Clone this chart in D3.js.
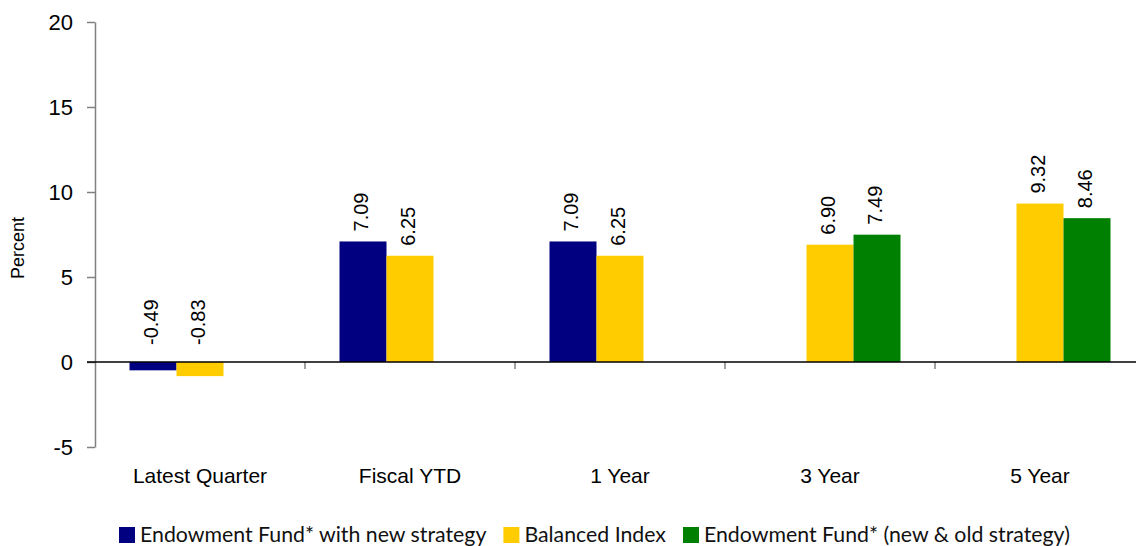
<!DOCTYPE html>
<html>
<head>
<meta charset="utf-8">
<script src="https://cdn.jsdelivr.net/npm/d3@7"></script>
<style>
  body { margin: 0; background: #fff; }
  svg { display: block; font-family: "Liberation Sans", Arial, sans-serif; }
</style>
</head>
<body>
<div id="chart"></div>
<script>
// chart data
const categories = ["Latest Quarter", "Fiscal YTD", "1 Year", "3 Year", "5 Year"];
const seriesNames = ["Endowment Fund* with new strategy", "Balanced Index", "Endowment Fund* (new & old strategy)"];
const seriesColors = ["#000080", "#FFCC00", "#008000"];
const endowmentNew = [-0.49, 7.09, 7.09, null, null];
const balancedIndex = [-0.83, 6.25, 6.25, 6.90, 9.32];
const endowmentAll = [null, null, null, 7.49, 8.46];
const yTicks = [-5, 0, 5, 10, 15, 20];

const seriesValues = [endowmentNew, balancedIndex, endowmentAll];

const width = 1136, height = 546;

const svg = d3.select("#chart").append("svg")
  .attr("width", width)
  .attr("height", height);

// scales
const y = d3.scaleLinear().domain([-5, 20]).range([447, 22]);
const x0 = d3.scaleBand().domain(categories).range([95, 1145]).paddingInner(0).paddingOuter(0);
const x1 = d3.scaleBand().domain(seriesNames).range([34.5, x0.bandwidth() - 34.5]).padding(0);

// y axis
const yAxis = svg.append("g")
  .attr("transform", "translate(95,0)")
  .call(d3.axisLeft(y).tickValues(yTicks).tickFormat(d => String(d))
    .tickSize(8).tickPadding(14).tickSizeOuter(0));
yAxis.select(".domain").attr("stroke", "#808080").attr("stroke-width", 1.5);
yAxis.selectAll(".tick line").attr("stroke", "#808080").attr("stroke-width", 1.5);
yAxis.selectAll(".tick text")
  .attr("font-size", 22)
  .attr("fill", "#000")
  .attr("font-family", "Liberation Sans, Arial, sans-serif");

// y axis title
svg.append("text")
  .attr("transform", "translate(24,248) rotate(-90)")
  .attr("text-anchor", "middle")
  .attr("font-size", 18)
  .text("Percent");

// category separators
svg.selectAll(".sep")
  .data(categories.slice(1))
  .enter().append("line")
  .attr("x1", d => x0(d)).attr("x2", d => x0(d))
  .attr("y1", y(0)).attr("y2", y(0) + 7)
  .attr("stroke", "#808080")
  .attr("stroke-width", 1.5);

// bars
const groups = svg.selectAll(".grp")
  .data(categories)
  .enter().append("g")
  .attr("transform", d => `translate(${x0(d)},0)`);

groups.each(function (cat, ci) {
  const g = d3.select(this);
  seriesNames.forEach((name, si) => {
    const v = seriesValues[si][ci];
    if (v === null) return;
    g.append("rect")
      .attr("x", x1(name))
      .attr("width", x1.bandwidth())
      .attr("y", y(Math.max(0, v)))
      .attr("height", Math.abs(y(v) - y(0)))
      .attr("fill", seriesColors[si]);
    const ly = v >= 0 ? y(v) - 10 : y(0) - 17;
    g.append("text")
      .attr("transform", `translate(${x1(name) + x1.bandwidth() / 2 - 2},${ly}) rotate(-90)`)
      .attr("dy", "0.36em")
      .attr("font-size", 20)
      .text(v.toFixed(2));
  });
});

// zero line
svg.append("line")
  .attr("x1", 87).attr("x2", width)
  .attr("y1", y(0)).attr("y2", y(0))
  .attr("stroke", "#000")
  .attr("stroke-width", 1.5);

// category labels
svg.selectAll(".cat")
  .data(categories)
  .enter().append("text")
  .attr("x", d => x0(d) + x0.bandwidth() / 2)
  .attr("y", 483)
  .attr("text-anchor", "middle")
  .attr("font-size", 21)
  .text(d => d);

// legend
const legend = svg.append("g").attr("transform", "translate(119,535)");
let lx = 0;
seriesNames.forEach((name, i) => {
  const item = legend.append("g").attr("transform", `translate(${lx},0)`);
  item.append("rect")
    .attr("x", 0).attr("y", -8)
    .attr("width", 16).attr("height", 16)
    .attr("fill", seriesColors[i]);
  const t = item.append("text")
    .attr("x", 21).attr("y", 7)
    .attr("font-family", "Lato, 'Open Sans', sans-serif")
    .attr("font-size", 21.3)
    .attr("fill", "#111")
    .text(name);
  lx += 21 + t.node().getComputedTextLength() + 17;
});
</script>
</body>
</html>
